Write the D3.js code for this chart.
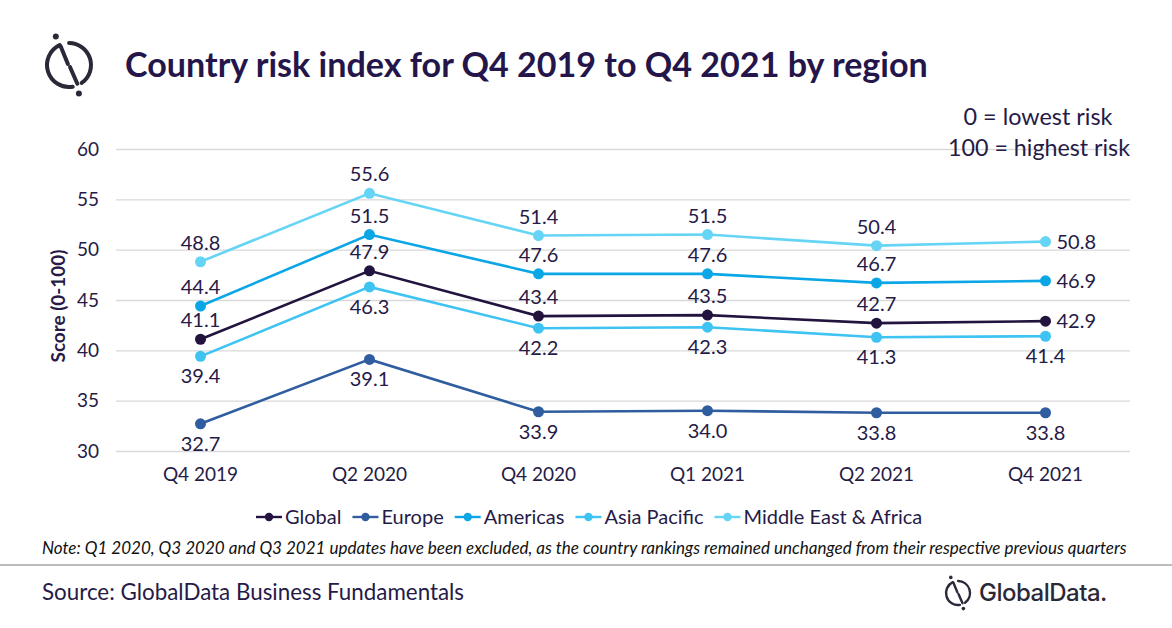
<!DOCTYPE html>
<html>
<head>
<meta charset="utf-8">
<script src="https://cdn.jsdelivr.net/npm/d3@7"></script>
<style>
  body { margin: 0; background: #fff; }
  text { font-family: Lato, "Open Sans", sans-serif; }
</style>
</head>
<body>
<div id="chart"></div>
<script>
// Data
const categories = ["Q4 2019", "Q2 2020", "Q4 2020", "Q1 2021", "Q2 2021", "Q4 2021"];
const globalScores = [41.1, 47.9, 43.4, 43.5, 42.7, 42.9];
const europeScores = [32.7, 39.1, 33.9, 34.0, 33.8, 33.8];
const americasScores = [44.4, 51.5, 47.6, 47.6, 46.7, 46.9];
const asiaPacificScores = [39.4, 46.3, 42.2, 42.3, 41.3, 41.4];
const meaScores = [48.8, 55.6, 51.4, 51.5, 50.4, 50.8];
const yTicks = [30, 35, 40, 45, 50, 55, 60];

const seriesNames = ["Global", "Europe", "Americas", "Asia Pacific", "Middle East & Africa"];
const seriesValues = [globalScores, europeScores, americasScores, asiaPacificScores, meaScores];
const seriesColors = ["#22143f", "#2f5d9f", "#0aa6e6", "#3ec3f2", "#66d5f5"];
// where the data label goes for each series (last point may go to the right)
const labelPlace = ["above", "below", "above", "below", "above"];
const lastRight = [true, false, true, false, true];

const textColor = "#261a47";
const W = 1172, H = 628;
const margin = { top: 149, right: 42, bottom: 177, left: 116 };

const svg = d3.select("#chart")
  .append("svg")
    .attr("width", W)
    .attr("height", H);

// Scales
const x = d3.scaleBand()
  .domain(categories)
  .range([margin.left, W - margin.right]);

const y = d3.scaleLinear()
  .domain([30, 60])
  .range([H - margin.bottom, margin.top]);

const cx = d => x(d) + x.bandwidth() / 2;

// Gridlines + y ticks
const yAxis = svg.append("g")
  .attr("transform", `translate(${margin.left},0)`)
  .call(d3.axisLeft(y).tickValues(yTicks).tickSize(-(W - margin.left - margin.right)).tickPadding(17));
yAxis.select(".domain").remove();
yAxis.selectAll(".tick line").attr("stroke", "#d9d9d9").attr("stroke-width", 1.3);
yAxis.selectAll(".tick text")
  .attr("fill", textColor)
  .style("font-size", "19px")
  .style("font-family", "Lato, sans-serif");

// x axis labels
const xAxis = svg.append("g")
  .attr("transform", `translate(0,${H - margin.bottom})`)
  .call(d3.axisBottom(x).tickSize(0).tickPadding(17));
xAxis.select(".domain").remove();
xAxis.selectAll(".tick text")
  .attr("fill", textColor)
  .style("font-size", "19px")
  .style("font-family", "Lato, sans-serif");

// Y axis label
const yLabel = svg.append("text")
  .attr("transform", "rotate(-90)")
  .attr("x", -306)
  .attr("y", 65)
  .attr("text-anchor", "middle")
  .attr("fill", textColor)
  .style("font-size", "18px")
  .style("font-weight", "bold")
  .text("Score (0-100)");
fitWidth(yLabel, 113, 18);

// Lines, dots, labels
const line = d3.line()
  .x((d, i) => cx(categories[i]))
  .y(d => y(d));

seriesValues.forEach((vals, s) => {
  svg.append("path")
    .datum(vals)
    .attr("fill", "none")
    .attr("stroke", seriesColors[s])
    .attr("stroke-width", 2.6)
    .attr("d", line);

  svg.selectAll(".dot" + s)
    .data(vals)
    .enter().append("circle")
      .attr("cx", (d, i) => cx(categories[i]))
      .attr("cy", d => y(d))
      .attr("r", 5.5)
      .attr("fill", seriesColors[s]);

  svg.selectAll(".lbl" + s)
    .data(vals)
    .enter().append("text")
      .attr("x", (d, i) => (lastRight[s] && i === vals.length - 1) ? cx(categories[i]) + 11 : cx(categories[i]))
      .attr("y", (d, i) => {
        if (lastRight[s] && i === vals.length - 1) return y(d) + 7;
        return labelPlace[s] === "above" ? y(d) - 12 : y(d) + 27;
      })
      .attr("text-anchor", (d, i) => (lastRight[s] && i === vals.length - 1) ? "start" : "middle")
      .attr("fill", textColor)
      .style("font-size", "20px")
      .text(d => d.toFixed(1));
});

// Legend
let lx = 256;
const ly = 517;
seriesNames.forEach((name, s) => {
  const g = svg.append("g").attr("transform", `translate(${lx},${ly})`);
  g.append("line")
    .attr("x1", 0).attr("x2", 26)
    .attr("stroke", seriesColors[s]).attr("stroke-width", 2.4);
  g.append("circle").attr("cx", 13).attr("r", 4.2).attr("fill", seriesColors[s]);
  const t = g.append("text")
    .attr("x", 29)
    .attr("y", 7)
    .attr("fill", textColor)
    .style("font-size", "20px")
    .text(name);
  lx += 29 + t.node().getComputedTextLength() + 11;
});

// Title
const title = svg.append("text")
  .attr("x", 125)
  .attr("y", 77)
  .attr("fill", "#24164a")
  .style("font-size", "31px")
  .style("font-weight", "bold")
  .text("Country risk index for Q4 2019 to Q4 2021 by region");
fitWidth(title, 803, 31);

// Risk scale note top-right
const r1 = svg.append("text")
  .attr("x", 1038).attr("y", 125)
  .attr("text-anchor", "middle")
  .attr("fill", textColor)
  .style("font-size", "22px")
  .text("0 = lowest risk");
fitWidth(r1, 149, 22);
const r2 = svg.append("text")
  .attr("x", 1039).attr("y", 156)
  .attr("text-anchor", "middle")
  .attr("fill", textColor)
  .style("font-size", "22px")
  .text("100 = highest risk");
fitWidth(r2, 182, 22);

// Footnote
const note = svg.append("text")
  .attr("x", 42).attr("y", 554)
  .attr("fill", "#111")
  .style("font-size", "13px")
  .style("font-style", "italic")
  .text("Note: Q1 2020, Q3 2020 and Q3 2021 updates have been excluded, as the country rankings remained unchanged from their respective previous quarters");
fitWidth(note, 1086, 13);

svg.append("line")
  .attr("x1", 0).attr("x2", W)
  .attr("y1", 565).attr("y2", 565)
  .attr("stroke", "#a6a6a6").attr("stroke-width", 1.5);

const source = svg.append("text")
  .attr("x", 42).attr("y", 600)
  .attr("fill", textColor)
  .style("font-size", "20px")
  .text("Source: GlobalData Business Fundamentals");
fitWidth(source, 422, 20);

// GlobalData logo marks
drawLogo(69, 65, 22, 4, "#2b2838");
drawLogo(958, 593, 12, 2.4, "#2b2838");
svg.append("text")
  .attr("x", 979).attr("y", 601)
  .attr("fill", "#2b2838")
  .style("font-size", "24px")
  .style("font-weight", 500)
  .style("font-family", "Inter, Lato, sans-serif")
  .style("letter-spacing", "-0.5px")
  .text("GlobalData.");

function fitWidth(sel, target, size) {
  const w = sel.node().getComputedTextLength();
  sel.style("font-size", (size * target / w).toFixed(2) + "px");
}

function drawLogo(ox, oy, r, sw, color) {
  const g = svg.append("g").attr("transform", `translate(${ox},${oy})`);
  const arc = d3.arc().innerRadius(r - sw / 2).outerRadius(r + sw / 2).cornerRadius(sw / 2);
  const deg = Math.PI / 180;
  // left "C" and right reversed "C"
  g.append("path").attr("d", arc({ startAngle: 165 * deg, endAngle: 340 * deg })).attr("fill", color);
  g.append("path").attr("d", arc({ startAngle: -5 * deg, endAngle: 150 * deg })).attr("fill", color);
  // inner broken diagonal
  g.append("line")
    .attr("x1", -r * 0.38).attr("y1", -r * 0.85)
    .attr("x2", -r * 0.05).attr("y2", -r * 0.05)
    .attr("stroke", color).attr("stroke-width", sw).attr("stroke-linecap", "round");
  g.append("line")
    .attr("x1", r * 0.05).attr("y1", r * 0.1)
    .attr("x2", r * 0.38).attr("y2", r * 0.85)
    .attr("stroke", color).attr("stroke-width", sw).attr("stroke-linecap", "round");
  // dots
  g.append("circle").attr("cx", -r * 0.6).attr("cy", -r * 1.3).attr("r", sw * 0.75).attr("fill", color);
  g.append("circle").attr("cx", r * 0.45).attr("cy", r * 1.3).attr("r", sw * 0.75).attr("fill", color);
}
</script>
</body>
</html>
